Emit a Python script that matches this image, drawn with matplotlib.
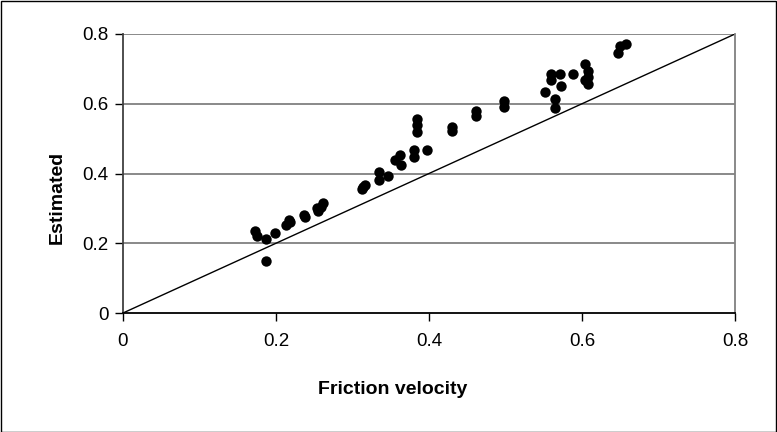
import matplotlib
matplotlib.use("Agg")
import matplotlib.pyplot as plt
from matplotlib.patches import Rectangle

plt.rcParams['font.family'] = ['Liberation Sans', 'DejaVu Sans']

friction_velocity = [0.172, 0.175, 0.187, 0.187, 0.199, 0.213, 0.217, 0.218, 0.236, 0.238,
                     0.253, 0.255, 0.261, 0.259, 0.314, 0.316, 0.312, 0.335, 0.335, 0.347,
                     0.356, 0.362, 0.364, 0.381, 0.381, 0.397, 0.384, 0.384, 0.384, 0.430,
                     0.430, 0.462, 0.462, 0.498, 0.498, 0.552, 0.560, 0.571, 0.560, 0.572,
                     0.565, 0.565, 0.588, 0.604, 0.608, 0.608, 0.608, 0.604, 0.647, 0.650,
                     0.657]
estimated = [0.235, 0.222, 0.211, 0.150, 0.228, 0.252, 0.266, 0.260, 0.280, 0.276,
             0.300, 0.292, 0.314, 0.305, 0.360, 0.366, 0.355, 0.404, 0.382, 0.392,
             0.438, 0.452, 0.423, 0.468, 0.447, 0.466, 0.557, 0.538, 0.519, 0.533,
             0.522, 0.578, 0.565, 0.608, 0.590, 0.633, 0.686, 0.686, 0.667, 0.652,
             0.614, 0.589, 0.686, 0.714, 0.695, 0.676, 0.657, 0.668, 0.745, 0.765,
             0.772]
ticks = [0, 0.2, 0.4, 0.6, 0.8]
tick_labels = ['0', '0.2', '0.4', '0.6', '0.8']

fig = plt.figure(figsize=(7.77, 4.32), dpi=100)
ax = fig.add_axes([123/777, 1-313/432, (735-123)/777, (313-34)/432])

for t in ticks[1:]:
    ax.axhline(t, color='#808080', lw=1.3, zorder=0)

ax.plot([0, 0.8], [0, 0.8], color='black', lw=1.0, zorder=2)
ax.scatter(friction_velocity, estimated, s=56, color='black', zorder=3, linewidths=0)

ax.set_xlim(0, 0.8)
ax.set_ylim(0, 0.8)
ax.set_xticks(ticks)
ax.set_xticklabels(tick_labels)
ax.set_yticks(ticks)
ax.set_yticklabels(tick_labels)
ax.tick_params(direction='out', length=5.5, width=1, labelsize=13.5, colors='black')
ax.tick_params(axis='x', pad=9)
ax.tick_params(axis='y', pad=5)
ax.spines['top'].set_visible(False)
ax.spines['right'].set_color('#808080')
ax.spines['right'].set_linewidth(1.3)
ax.spines['left'].set_color('#404040')
ax.spines['left'].set_linewidth(1.3)
ax.spines['bottom'].set_color('black')
ax.spines['bottom'].set_linewidth(1.3)

fig.text(123/777 + 0.44*(735-123)/777, 1-390/432, 'Friction velocity',
         ha='center', va='center', fontsize=14, fontweight='bold')
fig.text(57/777, 1-197/432, 'Estimated', ha='center', va='center',
         rotation=90, fontsize=14, fontweight='bold')

fig.patches.append(Rectangle((0.5/777, 0.5/432), 1-1.5/777, 1-1.5/432,
                             transform=fig.transFigure, fill=False,
                             edgecolor='black', lw=1.0))

fig.savefig('out.png', dpi=100)
